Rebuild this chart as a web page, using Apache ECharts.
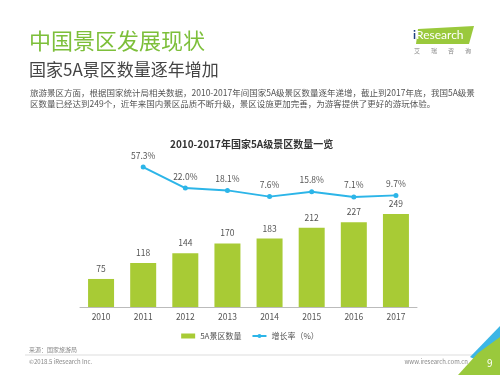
<!DOCTYPE html>
<html>
<head>
<meta charset="utf-8">
<script src="https://cdn.jsdelivr.net/npm/echarts@6/dist/echarts.min.js"></script>
<style>
  html, body { margin: 0; padding: 0; background: #fff; }
  #main { width: 500px; height: 375px; }
</style>
</head>
<body>
<div id="main"></div>
<script>
// 数据
const years = ['2010', '2011', '2012', '2013', '2014', '2015', '2016', '2017']
const scenicCount = [75, 118, 144, 170, 183, 212, 227, 249]
const growthRate = ['-', 57.3, 22.0, 18.1, 7.6, 15.8, 7.1, 9.7]

const FONT = '"Noto Sans CJK SC", "Noto Sans", sans-serif'
const GREEN = '#a8cb35'
const BLUE = '#2cb5e8'

// 艾瑞咨询 每个字单独放
let logoChars = ['艾', '瑞', '咨', '询'].map((c, i) => ({
  type: 'text', left: 414 + i * 17, top: 48,
  style: { text: c, fontSize: 6, fill: '#888', fontFamily: FONT }
}))

let chart = echarts.init(document.getElementById('main'))
chart.setOption({
  backgroundColor: '#fff',
  textStyle: { fontFamily: FONT },
  animation: false,
  title: {
    text: '2010-2017年国家5A级景区数量一览',
    left: 165,
    top: 134,
    textStyle: { fontSize: 10, fontWeight: 'bold', color: '#333', fontFamily: FONT }
  },
  legend: {
    left: 'center',
    top: 327,
    itemGap: 10,
    textStyle: { fontSize: 8, color: '#555', fontFamily: FONT },
    data: [
      { name: '5A景区数量', icon: 'rect', itemStyle: { color: GREEN } },
      { name: '增长率（%）' }
    ],
    itemWidth: 14,
    itemHeight: 5
  },
  grid: { left: 80, right: 83, top: 150, bottom: 68 },
  xAxis: {
    type: 'category',
    data: years,
    axisLine: { lineStyle: { color: '#bbb', width: 1 } },
    axisTick: { show: false },
    axisLabel: { fontSize: 8.5, color: '#555', margin: 6 }
  },
  yAxis: [
    { type: 'value', min: 0, max: 420, show: false },
    { type: 'value', min: -178, max: 86, show: false }
  ],
  series: [
    {
      name: '5A景区数量',
      type: 'bar',
      data: scenicCount,
      barWidth: 26,
      itemStyle: { color: GREEN },
      label: { show: true, position: 'top', fontSize: 8.5, color: '#555', distance: 6 }
    },
    {
      name: '增长率（%）',
      type: 'line',
      yAxisIndex: 1,
      data: growthRate,
      symbol: 'circle',
      symbolSize: 5,
      lineStyle: { color: BLUE, width: 2 },
      itemStyle: { color: BLUE },
      label: {
        show: true,
        position: 'top',
        fontSize: 8.5,
        color: '#555',
        distance: 5,
        formatter: p => p.value.toFixed(1) + '%'
      }
    }
  ],
  graphic: [
    {
      type: 'text', left: 29, top: 30,
      style: { text: '中国景区发展现状', fontSize: 22, fill: '#7dbf3a', fontFamily: FONT }
    },
    {
      type: 'text', left: 29, top: 61,
      style: { text: '国家5A景区数量逐年增加', fontSize: 17, fill: '#444', fontFamily: FONT }
    },
    {
      type: 'text', left: 30, top: 87,
      style: {
        text: '旅游景区方面，根据国家统计局相关数据，2010-2017年间国家5A级景区数量逐年递增，截止到2017年底，我国5A级景\n区数量已经达到249个，近年来国内景区品质不断升级，景区设施更加完善，为游客提供了更好的游玩体验。',
        fontSize: 8.5, lineHeight: 11, fill: '#555', fontFamily: FONT
      }
    },
    // logo
    {
      type: 'polygon',
      shape: { points: [[418, 29], [474, 26], [469, 44], [416, 44]] },
      style: { fill: '#9ac93c' }
    },
    {
      type: 'text', left: 413, top: 29,
      style: {
        text: '{i|i}{r|Research}',
        rich: {
          i: { fontSize: 12, fill: '#1f3f80', fontFamily: 'Lato, sans-serif', fontWeight: 'bold' },
          r: { fontSize: 12, fill: '#fff', fontFamily: 'Lato, sans-serif' }
        }
      }
    },
    ...logoChars,
    // footer
    {
      type: 'text', left: 29, top: 347,
      style: { text: '来源：国家旅游局', fontSize: 6, fill: '#888', fontFamily: FONT }
    },
    {
      type: 'line',
      shape: { x1: 25, y1: 355, x2: 473, y2: 355 },
      style: { stroke: '#ddd', lineWidth: 1 }
    },
    {
      type: 'text', left: 29, top: 359,
      style: { text: '©2018.5 iResearch Inc.', fontSize: 6, fill: '#888', fontFamily: FONT }
    },
    {
      type: 'text', right: 32, top: 359,
      style: { text: 'www.iresearch.com.cn', fontSize: 6, fill: '#888', fontFamily: FONT }
    },
    {
      type: 'polygon',
      shape: { points: [[500, 326], [500, 340], [481, 362], [470, 357]] },
      style: { fill: '#3bb6e6' }
    },
    {
      type: 'polygon',
      shape: { points: [[500, 337], [500, 375], [458, 375], [478, 353]] },
      style: { fill: '#9ac93c' }
    },
    {
      type: 'text', left: 487, top: 358,
      style: { text: '9', fontSize: 10, fill: '#fff', fontFamily: FONT }
    }
  ]
})
</script>
</body>
</html>
